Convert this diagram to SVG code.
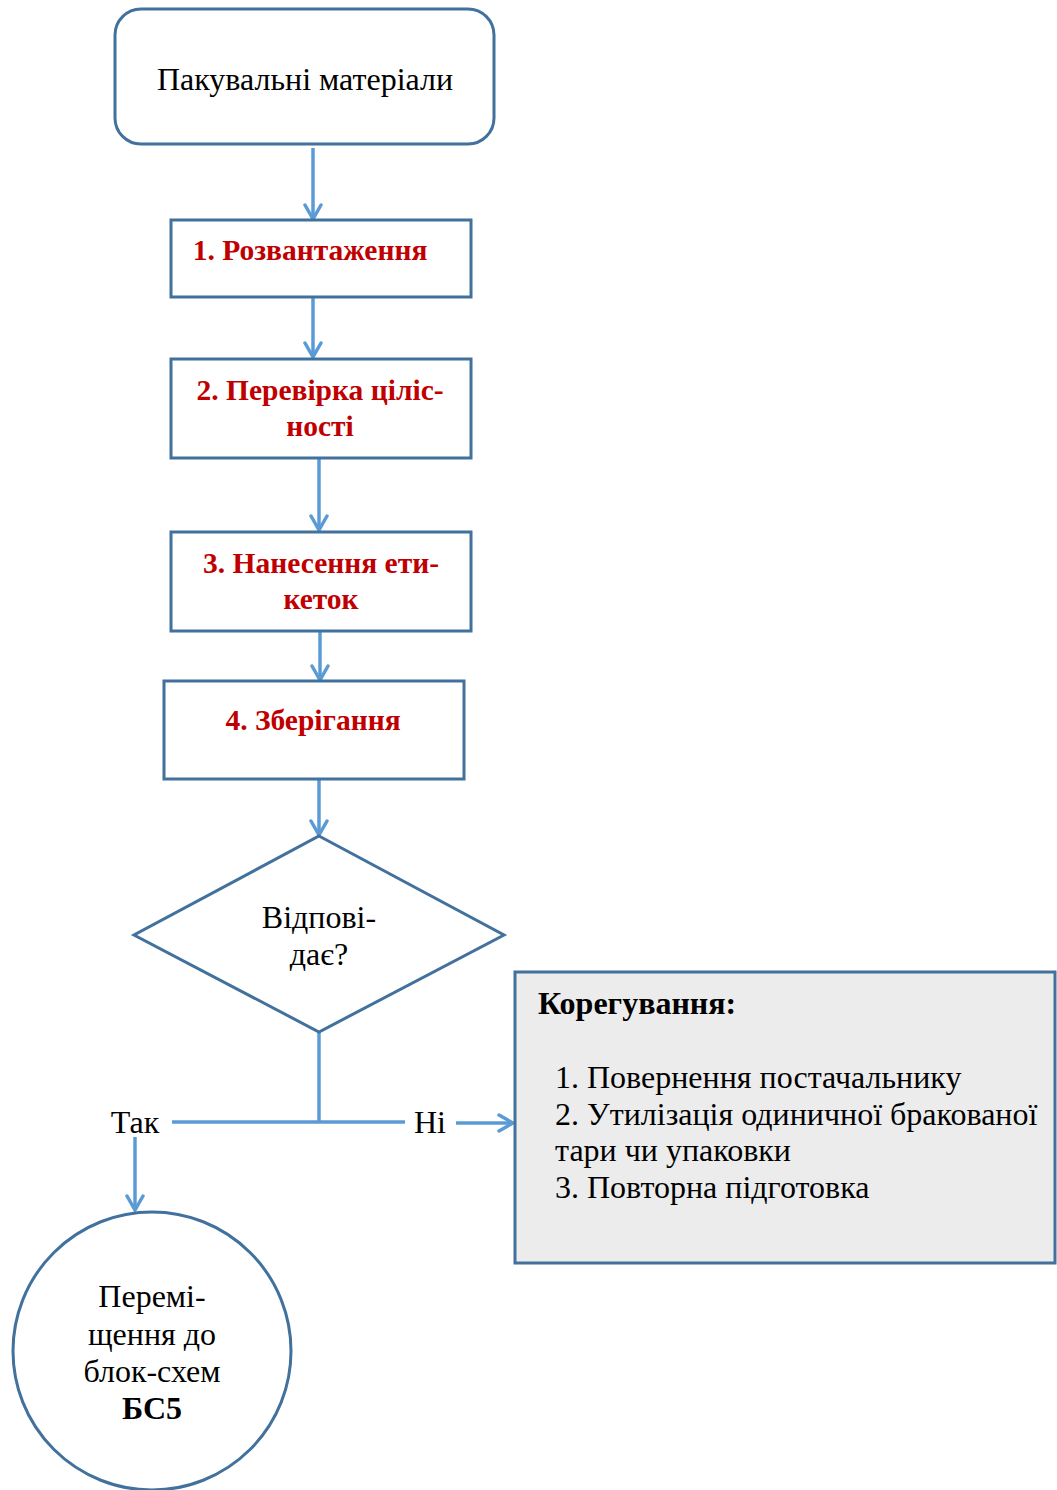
<svg xmlns="http://www.w3.org/2000/svg" width="1057" height="1490" viewBox="0 0 1057 1490">
<defs>
<style>
.node{fill:#fff;stroke:#41719c;stroke-width:3}
.gray{fill:#ececec;stroke:#41719c;stroke-width:3}
.conn{fill:none;stroke:#5b9bd5;stroke-width:3.5}
.t{font-family:"Liberation Serif","Times New Roman",serif;font-size:32px;fill:#000}
.r{font-family:"Liberation Serif","Times New Roman",serif;font-size:29.5px;font-weight:bold;fill:#c00000}
.b{font-weight:bold}
</style>
<marker id="ah" viewBox="0 0 20 20" refX="18" refY="10" markerWidth="20" markerHeight="20" markerUnits="userSpaceOnUse" orient="auto">
<path d="M4,2 L18,10 L4,18" fill="none" stroke="#5b9bd5" stroke-width="3.5" stroke-linecap="round"/>
</marker>
</defs>
<rect width="1057" height="1490" fill="#fff"/>
<g id="connectors">
<line class="conn" x1="313" y1="148" x2="313" y2="219" marker-end="url(#ah)"/>
<line class="conn" x1="313" y1="285" x2="313" y2="357" marker-end="url(#ah)"/>
<line class="conn" x1="319" y1="459" x2="319" y2="530" marker-end="url(#ah)"/>
<line class="conn" x1="320" y1="632" x2="320" y2="680" marker-end="url(#ah)"/>
<line class="conn" x1="319" y1="780" x2="319" y2="835" marker-end="url(#ah)"/>
<line class="conn" x1="319" y1="1033" x2="319" y2="1122"/>
<line class="conn" x1="172" y1="1122" x2="405" y2="1122"/>
<line class="conn" x1="456" y1="1123" x2="513" y2="1123" marker-end="url(#ah)"/>
<line class="conn" x1="135" y1="1137" x2="135" y2="1210" marker-end="url(#ah)"/>
</g>
<g id="start">
<rect class="node" x="115" y="9" width="379" height="135" rx="26"/>
<text class="t" x="305" y="90" text-anchor="middle">Пакувальні матеріали</text>
</g>
<g id="step1">
<rect class="node" x="171" y="220" width="300" height="77"/>
<text class="r" x="310" y="260" text-anchor="middle">1. Розвантаження</text>
</g>
<g id="step2">
<rect class="node" x="171" y="359" width="300" height="99"/>
<text class="r" x="320" y="400" text-anchor="middle">2. Перевірка ціліс-</text>
<text class="r" x="320" y="436" text-anchor="middle">ності</text>
</g>
<g id="step3">
<rect class="node" x="171" y="532" width="300" height="99"/>
<text class="r" x="321" y="573" text-anchor="middle">3. Нанесення ети-</text>
<text class="r" x="321" y="609" text-anchor="middle">кеток</text>
</g>
<g id="step4">
<rect class="node" x="164" y="681" width="300" height="98"/>
<text class="r" x="313" y="730" text-anchor="middle">4. Зберігання</text>
</g>
<g id="decision">
<polygon class="node" points="319,836 504,935 319,1032 134,935"/>
<text class="t" x="319" y="928" text-anchor="middle">Відпові-</text>
<text class="t" x="319" y="965" text-anchor="middle">дає?</text>
</g>
<g id="labels">
<text class="t" x="135" y="1133" text-anchor="middle">Так</text>
<text class="t" x="430" y="1133" text-anchor="middle">Ні</text>
</g>
<g id="correction">
<rect class="gray" x="515" y="972" width="540" height="291"/>
<text class="t b" x="538" y="1014">Корегування:</text>
<text class="t" x="555" y="1088">1. Повернення постачальнику</text>
<text class="t" x="555" y="1125">2. Утилізація одиничної бракованої</text>
<text class="t" x="555" y="1161">тари чи упаковки</text>
<text class="t" x="555" y="1198">3. Повторна підготовка</text>
</g>
<g id="end">
<circle class="node" cx="152" cy="1351" r="139"/>
<text class="t" x="152" y="1307" text-anchor="middle">Перемі-</text>
<text class="t" x="152" y="1345" text-anchor="middle">щення до</text>
<text class="t" x="152" y="1382" text-anchor="middle">блок-схем</text>
<text class="t b" x="152" y="1419" text-anchor="middle">БС5</text>
</g>
</svg>
